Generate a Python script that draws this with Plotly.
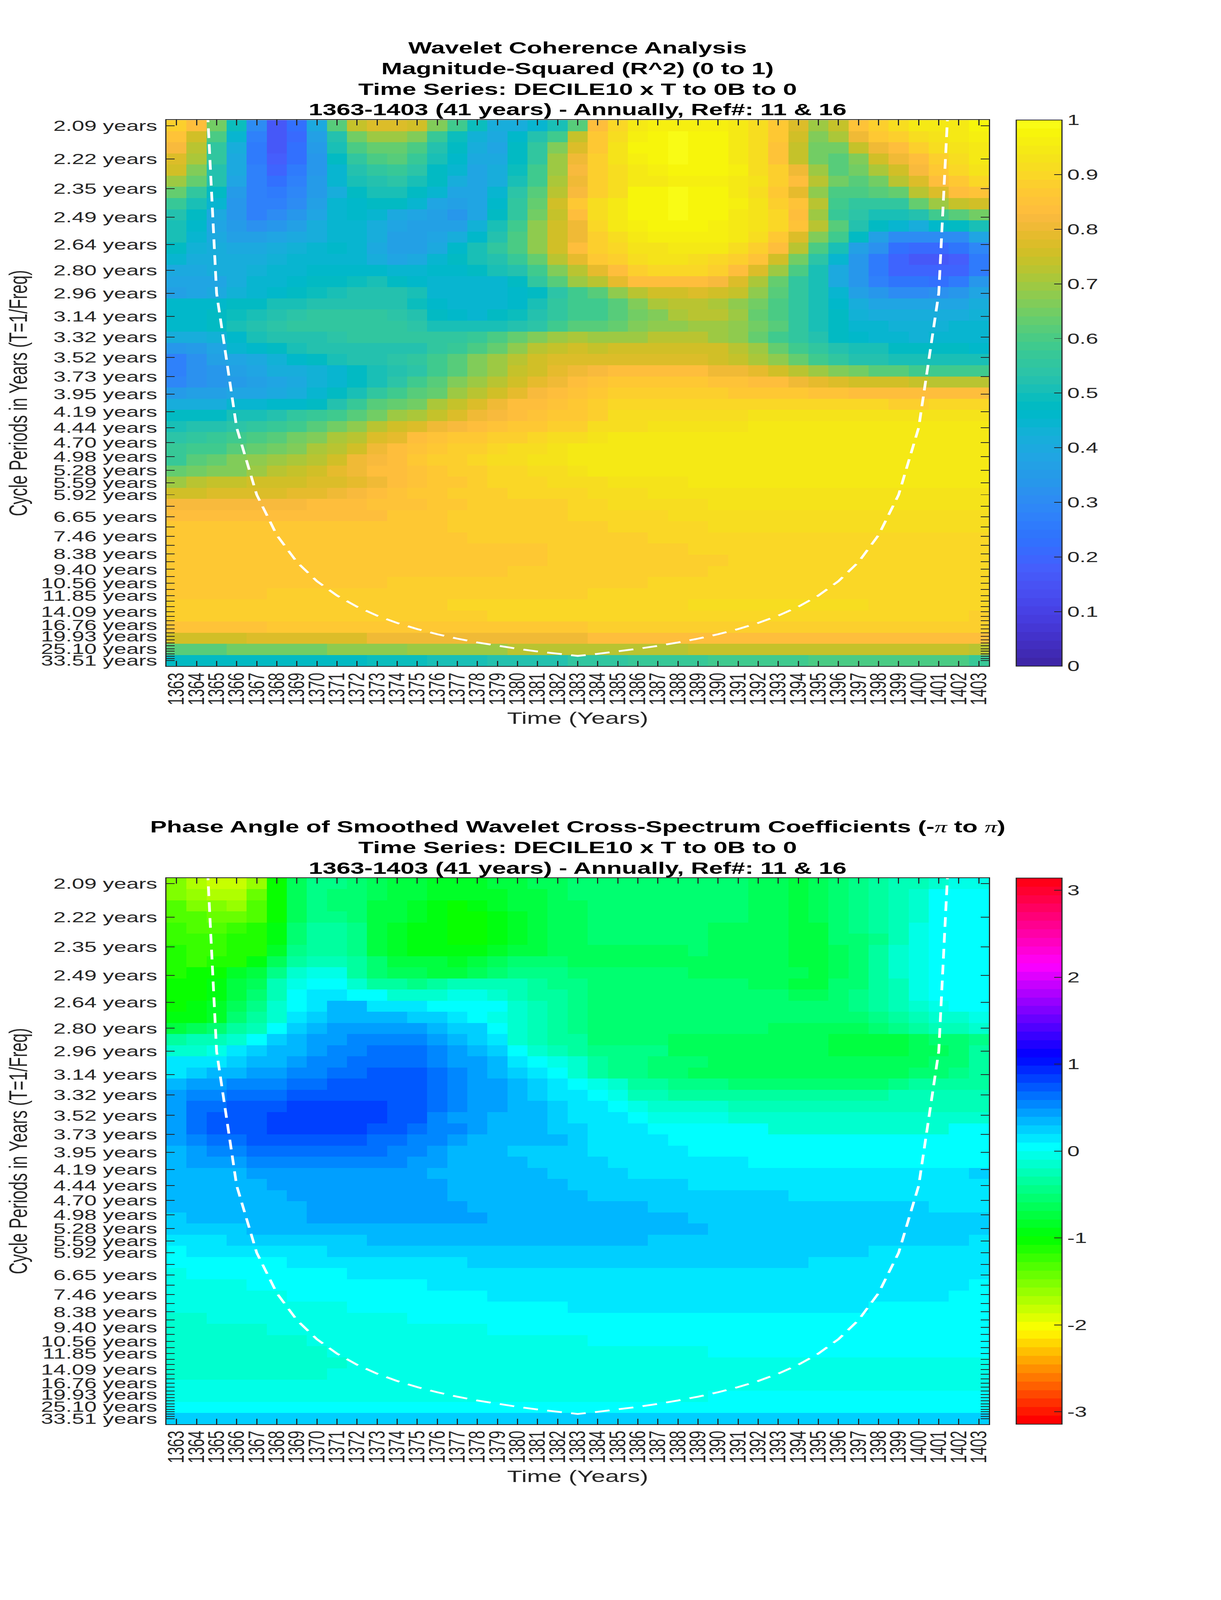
import numpy as np
import plotly.graph_objects as go

years = list(range(1363, 1404))

# 12 voices per octave, top row first
periods = [2.09, 2.22, 2.35, 2.49, 2.64, 2.80, 2.96, 3.14, 3.32, 3.52, 3.73, 3.95, 4.19,
           4.44, 4.70, 4.98, 5.28, 5.59, 5.92, 6.28, 6.65, 7.05, 7.46, 7.91, 8.38, 8.88,
           9.40, 9.96, 10.56, 11.18, 11.85, 12.56, 13.30, 14.09, 14.94, 15.82, 16.76,
           17.76, 18.82, 19.93, 21.12, 22.37, 23.70, 25.10, 26.60, 28.18, 29.85, 31.63, 33.51]
labelled = ["2.09", "2.22", "2.35", "2.49", "2.64", "2.80", "2.96", "3.14", "3.32", "3.52", "3.73",
            "3.95", "4.19", "4.44", "4.70", "4.98", "5.28", "5.59", "5.92", "6.65", "7.46", "8.38",
            "9.40", "10.56", "11.85", "14.09", "16.76", "19.93", "25.10", "33.51"]

coi_years = list(range(1364, 1403))
coi_periods = [1.48, 2.96, 4.44, 5.92, 7.40, 8.89, 10.37, 11.85, 13.33, 14.81, 16.29, 17.77, 19.25,
               20.73, 22.21, 23.69, 25.17, 26.66, 28.14, 29.62, 28.14, 26.66, 25.17, 23.69, 22.21,
               20.73, 19.25, 17.77, 16.29, 14.81, 13.33, 11.85, 10.37, 8.89, 7.40, 5.92, 4.44, 2.96, 1.48]

# R^2 x 100, one row per period
coherence = [
    [88,83,65,49,31,16,22,40,61,74,78,78,75,66,58,49,42,41,44,50,61, 83,90,94,96,96,96,96,94,91,86,78,70,74,85,89,92,94,94,95,97],
    [85,76,60,45,27,16,21,37,53,65,70,70,66,57,49,43,40,46,52,58,74, 86,92,96,97,99,98,97,95,92,87,76,67,71,80,86,89,91,93,94,96],
    [82,72,56,41,26,17,22,35,50,60,63,63,60,53,47,41,39,48,55,66,78, 87,93,97,97,99,98,97,95,92,85,74,65,65,74,80,84,88,91,93,95],
    [78,71,55,40,26,18,23,34,47,55,60,61,57,51,46,40,40,47,56,69,81, 88,93,96,97,99,98,97,95,92,85,74,65,61,67,75,80,84,88,91,94],
    [76,66,53,40,27,20,25,34,45,52,56,57,54,48,45,39,41,49,58,70,82, 88,92,95,96,97,97,97,96,92,88,80,70,62,65,71,75,82,87,90,93],
    [70,63,52,38,28,23,27,35,44,50,53,54,51,47,42,38,42,51,59,71,81, 88,91,94,95,96,96,96,95,93,89,84,73,65,62,65,72,77,84,87,90],
    [64,56,48,35,28,26,29,35,42,47,50,51,48,44,39,38,44,54,62,73,82, 88,92,97,97,99,98,97,95,92,86,79,68,60,60,62,63,72,78,83,85],
    [57,51,44,34,28,28,31,36,44,46,47,47,45,39,37,39,46,55,64,75,86, 92,95,97,97,99,98,97,96,93,89,85,72,58,55,56,56,64,69,74,75],
    [52,48,40,33,28,30,33,38,44,46,44,40,38,36,33,38,47,56,65,74,84, 91,95,97,98,99,98,97,95,93,90,84,69,57,54,51,50,53,58,62,65],
    [50,46,39,35,32,33,37,41,44,45,42,38,37,37,36,43,50,59,68,76,81, 90,94,96,97,97,97,96,95,93,90,85,73,62,53,48,44,42,46,47,51],
    [50,45,40,37,37,38,40,42,45,45,42,37,36,38,42,46,53,60,68,75,81, 89,92,95,96,96,96,96,95,92,87,78,67,58,47,36,31,30,30,31,38],
    [47,43,41,40,40,41,43,45,46,45,40,37,37,40,46,50,56,60,68,75,83, 88,90,93,93,95,94,94,92,89,84,72,60,50,37,32,23,21,21,24,29],
    [45,42,41,41,42,43,44,45,45,44,41,39,40,44,47,50,52,57,63,72,79, 86,89,92,93,93,92,90,89,85,76,65,54,44,33,26,20,16,17,18,26],
    [40,40,41,42,43,45,45,46,46,46,46,45,45,46,46,47,50,53,58,66,73, 79,84,88,90,90,90,88,84,78,70,60,50,40,33,26,20,20,20,20,26],
    [38,38,39,42,44,45,46,47,48,49,50,48,46,45,45,45,45,48,55,62,69, 72,79,83,84,84,84,82,77,71,63,56,50,40,33,28,24,24,22,25,33],
    [36,38,40,43,45,46,47,49,50,52,52,52,50,45,44,44,44,46,48,54,58, 61,68,73,76,76,77,76,74,68,62,56,50,44,36,33,31,31,32,34,39],
    [46,46,46,47,48,50,51,52,53,53,53,52,49,46,44,44,44,46,50,55,58, 58,62,66,71,72,73,71,68,65,60,55,50,46,41,38,38,38,38,39,41],
    [46,46,47,49,51,52,54,55,55,55,55,54,52,48,46,45,47,49,52,56,59, 59,62,65,67,71,72,72,69,64,60,55,50,47,43,41,41,41,41,41,43],
    [46,46,47,50,52,54,55,55,55,56,56,56,54,51,50,50,51,52,54,58,61, 62,64,66,68,68,69,69,68,65,61,55,50,47,45,44,43,43,43,44,45],
    [41,42,43,46,50,52,53,53,54,55,56,56,55,55,56,57,60,64,67,70,71, 69,70,70,72,72,72,70,68,64,59,55,52,48,46,45,44,43,44,44,44],
    [33,35,39,44,46,48,50,52,52,52,53,53,53,55,57,60,64,68,72,74,76, 74,75,75,76,76,76,75,73,70,64,59,55,52,50,50,48,47,47,47,46],
    [27,32,37,38,40,43,46,48,50,52,53,54,56,58,62,66,70,73,76,77,78, 77,78,77,78,78,77,76,74,71,68,63,59,56,53,52,51,50,51,51,51],
    [28,32,34,36,38,41,42,43,45,47,50,52,54,58,62,66,70,74,76,79,81, 82,83,83,83,83,83,80,80,79,76,73,69,67,65,62,62,59,58,58,58],
    [29,32,34,35,37,39,40,43,45,48,50,54,58,61,66,70,73,76,79,81,83, 85,87,87,87,87,87,85,85,84,83,80,79,78,76,75,75,74,73,73,73],
    [35,36,37,38,39,40,42,44,47,51,55,59,62,64,70,73,76,79,82,83,85, 87,88,88,88,88,88,88,87,87,86,86,85,85,84,84,83,84,84,84,84],
    [42,42,42,44,45,46,46,48,52,57,61,63,65,71,74,77,80,83,84,85,86, 88,90,90,90,90,90,90,90,90,90,90,90,90,90,90,89,89,90,90,90],
    [47,47,48,50,50,52,55,57,59,62,65,69,71,74,77,80,82,84,85,86,87, 89,91,91,91,91,91,91,91,93,93,93,93,93,93,93,93,93,93,93,93],
    [50,52,53,54,55,57,59,62,65,68,72,75,77,81,82,84,85,86,87,88,89, 91,92,92,93,93,93,93,93,94,94,94,94,94,94,94,94,94,94,94,94],
    [54,56,57,58,60,62,65,67,71,73,77,79,84,85,86,87,88,89,90,91,91, 93,94,94,94,95,95,95,95,95,95,95,95,95,95,95,95,95,95,95,95],
    [57,58,59,62,64,65,66,71,73,76,80,84,85,87,88,89,90,91,92,93,94, 94,95,95,95,95,95,95,95,95,95,95,95,95,95,95,95,95,95,95,95],
    [57,61,63,66,68,69,71,73,76,80,82,84,86,88,89,90,91,92,93,93,94, 94,95,95,95,95,95,95,95,95,95,95,95,95,95,95,95,95,95,94,94],
    [64,65,66,67,70,72,74,76,79,81,83,84,85,87,88,89,90,90,91,92,93, 94,94,95,95,95,95,95,95,95,95,95,95,95,95,95,95,95,94,94,94],
    [70,73,74,74,75,75,76,77,78,79,81,83,85,86,87,89,90,90,90,91,92, 92,93,93,93,93,94,94,94,94,94,94,94,94,94,94,94,94,94,94,94],
    [76,76,77,77,78,78,79,79,81,82,84,85,86,87,88,89,89,90,90,90,90, 91,92,92,93,93,93,93,93,93,93,93,93,93,93,93,93,93,93,93,93],
    [82,82,82,82,82,82,82,83,84,84,85,85,85,86,87,89,89,89,89,89,90, 90,91,92,92,92,92,93,93,93,93,93,93,93,93,93,93,93,93,93,93],
    [83,83,83,83,83,83,83,84,84,84,84,86,87,87,88,89,89,89,89,89,90, 90,90,90,90,91,92,92,92,92,92,92,92,92,92,92,92,92,92,92,92],
    [86]*10 + [87]*4 + [88]*4 + [89]*3 + [89,90,90,90,90,90] + [91]*14,
    [86]*10 + [87]*5 + [88]*3 + [89]*3 + [89,89,89] + [90]*17,
    [86]*12 + [87]*7 + [88,89] + [89]*5 + [90]*15,
    [86]*13 + [87]*6 + [88,88] + [88] + [89]*6 + [90]*13,
    [86]*10 + [87]*7 + [88,88,89,89] + [89]*6 + [90]*14,
    [87]*11 + [88]*10 + [89]*3 + [90]*17,
    [87]*5 + [88]*16 + [90]*20,
    [88]*6 + [89]*8 + [90]*7 + [90]*5 + [91]*9 + [90]*6,
    [88]*7 + [89]*9 + [90]*5 + [90]*19 + [88],
    [85]*5 + [87]*16 + [88]*2 + [89]*12 + [88]*6,
    [76]*4 + [78]*6 + [80]*6 + [81]*5 + [84]*15 + [83]*5,
    [62]*3 + [65]*5 + [68]*4 + [70]*5 + [72]*4 + [73]*5 + [74]*14 + [73],
    [48]*10 + [49]*3 + [50]*3 + [52]*4 + [55] + [55,55] + [57]*4 + [59]*5 + [60]*8 + [57],
]

# phase in radians x 100, one row per period
phase = [
    [-155,-175,-180,-185,-165,-100,-60,-40,-40,-55,-60,-70,-75,-80,-85,-80,-75,-70,-65,-60,-50, -55,-55,-55,-55,-52,-52,-55,-55,-60,-65,-75,-65,-50,-40,-35,-25,-20,-10,-5,-5],
    [-150,-160,-170,-175,-145,-105,-60,-40,-50,-55,-60,-70,-75,-80,-85,-85,-80,-70,-70,-65,-55, -55,-55,-55,-55,-52,-52,-55,-55,-60,-65,-75,-65,-50,-40,-35,-25,-10,3,3,3],
    [-135,-150,-155,-160,-135,-105,-65,-45,-55,-55,-70,-75,-85,-90,-100,-95,-85,-75,-70,-65,-60, -55,-55,-55,-55,-52,-52,-55,-55,-60,-65,-75,-65,-50,-40,-30,-20,-10,3,3,3],
    [-130,-135,-145,-145,-130,-100,-65,-45,-45,-55,-70,-75,-85,-95,-105,-105,-90,-80,-70,-65,-60, -55,-55,-55,-55,-52,-52,-55,-55,-60,-65,-75,-65,-50,-40,-30,-20,-10,3,3,3],
    [-125,-130,-130,-120,-115,-95,-50,-35,-30,-45,-70,-80,-90,-95,-105,-105,-90,-80,-75,-65,-60, -55,-55,-55,-55,-52,-52,-60,-60,-60,-60,-75,-70,-55,-45,-35,-20,-5,3,3,3],
    [-120,-125,-125,-115,-110,-90,-50,-35,-30,-45,-70,-80,-90,-95,-100,-100,-90,-80,-75,-65,-60, -55,-55,-55,-55,-52,-52,-60,-60,-60,-60,-75,-70,-55,-50,-40,-20,-5,3,3,3],
    [-115,-120,-120,-115,-110,-85,-40,-30,-30,-45,-70,-80,-90,-90,-95,-95,-85,-75,-70,-65,-60, -60,-60,-60,-60,-60,-55,-65,-65,-65,-65,-75,-70,-60,-50,-35,-15,-5,3,3,3],
    [-115,-120,-115,-115,-90,-60,-30,-20,-20,-35,-50,-70,-70,-75,-80,-70,-60,-55,-50,-55,-60, -60,-60,-60,-60,-60,-65,-65,-65,-65,-65,-75,-75,-65,-50,-35,-15,-5,3,3,3],
    [-110,-105,-105,-85,-70,-40,-10,-5,-5,-30,-50,-60,-65,-70,-75,-60,-50,-45,-40,-45,-50, -55,-55,-55,-55,-55,-60,-60,-60,-60,-60,-65,-70,-60,-55,-35,-15,-5,3,3,3],
    [-105,-100,-95,-75,-60,-25,-5,5,5,-10,-30,-30,-40,-35,-25,-20,-20,-20,-30,-40,-45, -55,-55,-55,-55,-55,-55,-55,-55,-60,-65,-70,-70,-55,-50,-35,-20,-5,3,3,3],
    [-105,-100,-90,-70,-55,-25,5,15,15,5,3,-10,-10,-10,-5,-5,-10,-20,-30,-35,-40, -50,-50,-50,-50,-50,-50,-50,-50,-50,-55,-60,-60,-50,-45,-35,-20,-5,3,3,3],
    [-100,-95,-85,-65,-45,-15,5,15,30,30,10,10,10,3,3,3,3,-10,-25,-35,-40] + [-50]*13 + [-45,-35,-25,-10,-5,3,3],
    [-95,-90,-80,-55,-30,-10,15,25,30,35,35,35,25,20,10,5,-5,-15,-25,-30,-40] + [-50]*11 + [-55,-55,-55,-45,-35,-20,-10,-10,-5],
    [-75,-65,-55,-30,-20,3,20,35,40,45,45,45,45,35,25,20,5,-15,-25,-35,-40] + [-55]*9 + [-60,-60,-65,-65,-65,-55,-45,-35,-25,-20,-15],
    [-30,-25,-20,-10,3,20,30,40,40,55,55,55,55,40,30,20,10,-10,-20,-30,-35] + [-50]*4 + [-65]*8 + [-72]*4 + [-65,-55,-50,-40],
    [-10,-10,-5,10,20,35,35,45,50,55,60,60,60,50,40,35,20,3,-10,-20,-30] + [-40,-45,-45,-45] + [-65]*8 + [-75,-75,-75,-70,-65,-60,-50,-35],
    [10,10,10,20,30,35,40,50,55,60,60,65,65,55,45,40,30,10,3,-5,-15] + [-35,-40,-40,-50,-50,-50] + [-65]*10 + [-60,-55,-50,-35],
    [15,20,30,30,40,45,50,55,60,65,70,72,72,60,50,40,30,20,10,3,-10] + [-35,-40,-45,-50,-55] + [-60]*5 + [-65]*6 + [-55,-50,-45,-35],
    [35,40,40,50,50,55,60,65,70,72,72,75,75,65,55,40,40,30,20,10,3] + [-5,-15,-30,-35,-40,-40,-45] + [-50]*8 + [-45,-35,-30,-30,-30],
    [40,50,50,60,60,65,70,70,70,72,72,72,72,65,55,45,40,35,25,15,10] + [3,-5,-20,-25,-30,-30,-30,-30] + [-35]*7 + [-25]*5,
    [45,60,65,70,72,72,85,85,85,85,85,75,75,60,50,45,45,35,30,20,10] + [10,3,-5,-10,-15,-15,-15] + [-20]*13,
    [45,60,72,75,75,85,85,85,85,85,85,75,70,55,45,40,35,30,30,20,15] + [10,10,3,-5,-5,-5,-5] + [-10]*13,
    [45,60,70,75,75,85,85,85,85,85,75,75,60,50,50,45,35,30,30,25,20] + [10,10,10,3,3,3,3,3,3] + [-15]*8 + [-10,3,3],
    [40,50,60,65,72,72,72,72,72,72,65,60,50,50,45,35,30,30,30,30,20] + [10,10,10,10] + [3]*16,
    [35,40,50,55,65,65,65,65,65,65,60,50,50,45,35,30,30,20,20,20,20] + [10]*5 + [3]*15,
    [30,40,40,45,55,55,55,55,55,55,55,55,40,40,30,30,30,30,25,20,20] + [20] + [10]*7 + [3]*12,
    [30,30,30,35] + [40]*9 + [35] + [30]*5 + [25,20] + [20,20] + [10]*17 + [20],
    [30]*4 + [35] + [40]*9 + [30]*6 + [25] + [20]*5 + [10]*15,
    [30]*5 + [35] + [40]*8 + [30]*7 + [25] + [20]*9 + [10]*10,
    [35]*7 + [45]*8 + [30]*6 + [30]*3 + [20]*14 + [10]*3,
    [20] + [30]*6 + [45]*9 + [30]*5 + [30]*5 + [20]*15,
    [20]*4 + [35]*17 + [33]*6 + [20]*14,
    [12]*3 + [25]*7 + [30]*11 + [30]*3 + [20]*16 + [10],
    [3] + [12]*7 + [22]*13 + [22]*14 + [12]*6,
    [3]*6 + [10]*9 + [20]*6 + [20]*11 + [10]*9,
    [-5] + [3]*8 + [10]*12 + [10]*20,
    [-5]*4 + [3]*9 + [10]*8 + [10]*19 + [3],
    [-5]*6 + [3]*10 + [10]*5 + [10]*18 + [3,3],
    [-5]*9 + [3]*11 + [10] + [10]*14 + [3]*6,
    [-15,-15] + [-5]*10 + [3]*9 + [3]*20,
    [-15]*5 + [-5]*11 + [3]*5 + [3]*20,
    [-15]*7 + [-5]*14 + [3]*20,
    [-15]*8 + [-5]*13 + [-5]*6 + [3]*14,
    [-15]*9 + [-5]*12 + [-5]*20,
    [-15]*8 + [-5]*13 + [-5]*20,
    [-5]*41,
    [-5]*27 + [3]*14,
    [3]*41,
    [22]*41,
]

parula = [
    (.2422,.1504,.6603),(.2504,.1650,.7076),(.2578,.1818,.7511),(.2647,.1978,.7952),(.2706,.2147,.8364),
    (.2751,.2342,.8710),(.2783,.2559,.8991),(.2803,.2782,.9221),(.2813,.3006,.9414),(.2810,.3228,.9579),
    (.2760,.3465,.9743),(.2699,.3702,.9883),(.2440,.3912,.9964),(.2206,.4153,.9955),(.1963,.4387,.9952),
    (.1841,.4600,.9900),(.1835,.4840,.9865),(.1834,.5074,.9798),(.1786,.5289,.9682),(.1764,.5499,.9520),
    (.1687,.5703,.9359),(.1540,.5902,.9218),(.1460,.6091,.9079),(.1380,.6276,.8973),(.1248,.6459,.8883),
    (.1113,.6635,.8763),(.0952,.6798,.8598),(.0689,.6948,.8394),(.0297,.7082,.8163),(.0036,.7203,.7917),
    (.0067,.7312,.7660),(.0433,.7411,.7394),(.0964,.7500,.7120),(.1408,.7584,.6842),(.1717,.7670,.6554),
    (.1938,.7758,.6251),(.2161,.7843,.5923),(.2470,.7918,.5567),(.2906,.7973,.5188),(.3406,.8008,.4789),
    (.3909,.8029,.4354),(.4456,.8024,.3909),(.5044,.7993,.3480),(.5616,.7942,.3045),(.6174,.7876,.2612),
    (.6720,.7793,.2227),(.7242,.7698,.1910),(.7738,.7598,.1646),(.8203,.7498,.1535),(.8634,.7406,.1596),
    (.9035,.7330,.1774),(.9393,.7288,.2100),(.9728,.7298,.2394),(.9956,.7434,.2371),(.9970,.7659,.2199),
    (.9952,.7861,.1990),(.9892,.8135,.1769),(.9786,.8422,.1503),(.9676,.8666,.1248),(.9610,.8907,.1016),
    (.9597,.9135,.0805),(.9628,.9373,.0640),(.9691,.9606,.0430),(.9769,.9839,.0805),
]


def hsv_rgb(h):
    r = np.clip(abs(h * 6 - 3) - 1, 0, 1)
    g = np.clip(2 - abs(h * 6 - 2), 0, 1)
    b = np.clip(2 - abs(h * 6 - 4), 0, 1)
    return (r, g, b)


def stepped(colors):
    out = []
    n = len(colors)
    for i, c in enumerate(colors):
        rgb = "rgb(%d,%d,%d)" % tuple(round(v * 255) for v in c)
        out.append([i / n, rgb])
        out.append([(i + 1) / n, rgb])
    return out


W, H = 3125, 6252
AX_L, AX_R = 426, 2531
AX_H = 2134
TOPS = [469, 3431]
BAR_L = 2601
BAR_W = 117
INK = "rgb(38,38,38)"
FONT = "Liberation Sans"

rows = np.array(coherence, dtype=float) / 100
angle = np.array(phase, dtype=float) / 100

freq = np.linspace(1 / periods[0], 1 / periods[-1], len(periods))
df = freq[0] - freq[1]
freq_ticks = [1 / p for p in periods]
tick_text = [("%.2f years" % p) if "%.2f" % p in labelled else "" for p in periods]
year_text = [str(y) for y in years]

fig = go.Figure()

specs = [
    (rows, 0, 1, stepped(parula), [round(v * 0.1, 1) for v in range(11)],
     ["0", "0.1", "0.2", "0.3", "0.4", "0.5", "0.6", "0.7", "0.8", "0.9", "1"]),
    (angle, -np.pi, np.pi, stepped([hsv_rgb(i / 64) for i in range(64)]), [-3, -2, -1, 0, 1, 2, 3],
     ["-3", "-2", "-1", "0", "1", "2", "3"]),
]

for i, (z, lo, hi, scale, bar_vals, bar_text) in enumerate(specs):
    n = "" if i == 0 else "2"
    top = TOPS[i]
    fig.add_trace(go.Heatmap(
        x=years, y=freq, z=z, zmin=lo, zmax=hi, colorscale=scale, xaxis="x" + n, yaxis="y" + n,
        colorbar=dict(
            x=BAR_L / W, xanchor="left", xpad=0, ypad=0,
            y=1 - (top + AX_H / 2) / H, yanchor="middle", len=AX_H / H, lenmode="fraction",
            thickness=BAR_W, thicknessmode="pixels",
            outlinecolor=INK, outlinewidth=3,
            ticks="inside", ticklen=21, tickwidth=3, tickcolor=INK,
            tickmode="array", tickvals=bar_vals, ticktext=bar_text,
            tickfont=dict(family=FONT, size=57, color=INK),
        ),
    ))
    fig.add_trace(go.Scatter(
        x=coi_years, y=[1 / p for p in coi_periods], mode="lines", xaxis="x" + n, yaxis="y" + n,
        line=dict(color="white", width=7, dash="38px,24px"), showlegend=False,
    ))
    axis = dict(showline=True, linecolor=INK, linewidth=3, mirror="ticks", ticks="inside", ticklen=21,
                tickwidth=3, tickcolor=INK, showgrid=False, zeroline=False,
                tickfont=dict(family=FONT, size=57, color=INK), automargin=False)
    fig.layout["xaxis" + n] = dict(
        axis, domain=[AX_L / W, AX_R / W], range=[1362.5, 1403.5], anchor="y" + n,
        tickmode="array", tickvals=years, ticktext=year_text, tickangle=-90,
        title=dict(text="Time (Years)", font=dict(family=FONT, size=64, color=INK), standoff=30),
    )
    fig.layout["yaxis" + n] = dict(
        axis, domain=[1 - (top + AX_H) / H, 1 - top / H],
        range=[freq[-1] - df / 2, freq[0] + df / 2], anchor="x" + n,
        tickmode="array", tickvals=freq_ticks, ticktext=tick_text, ticklabelstandoff=9,
        title=dict(text="Cycle Periods in Years (T=1/Freq)", font=dict(family=FONT, size=64, color=INK), standoff=15),
    )

pi = "<span style='font-family:Liberation Serif;font-weight:normal'><i>\u03c0</i></span>"
title_lines = [
    ("Wavelet Coherence Analysis", 187),
    ("Magnitude-Squared (R^2) (0 to 1)", 268),
    ("Time Series: DECILE10 x T to 0B to 0", 349),
    ("1363-1403 (41 years) - Annually, Ref#: 11 & 16", 429),
    ("Phase Angle of Smoothed Wavelet Cross-Spectrum Coefficients (-" + pi + " to " + pi + ")", 3230),
    ("Time Series: DECILE10 x T to 0B to 0", 3312),
    ("1363-1403 (41 years) - Annually, Ref#: 11 & 16", 3392),
]
for text, y in title_lines:
    fig.add_annotation(text="<b>" + text + "</b>", xref="paper", yref="paper", x=(AX_L + AX_R) / 2 / W,
                       y=1 - y / H, xanchor="center", yanchor="middle", showarrow=False,
                       font=dict(family=FONT, size=64, color="black"))

fig.update_layout(width=W, height=H, margin=dict(l=0, r=0, t=0, b=0), paper_bgcolor="white",
                  plot_bgcolor="white", showlegend=False)

# the sandbox window stops at 4096 px high: fit the whole page when the window is shorter than the figure
fit = ("document.body.style.margin='0';"
       "document.documentElement.style.overflow='hidden';"
       "var s=Math.min(1,window.innerHeight/%d);"
       "document.body.style.transformOrigin='0 0';"
       "document.body.style.transform='scaleY('+s+')';" % H)
fig.write_html("out.html", post_script=fit, config={"displayModeBar": False})
